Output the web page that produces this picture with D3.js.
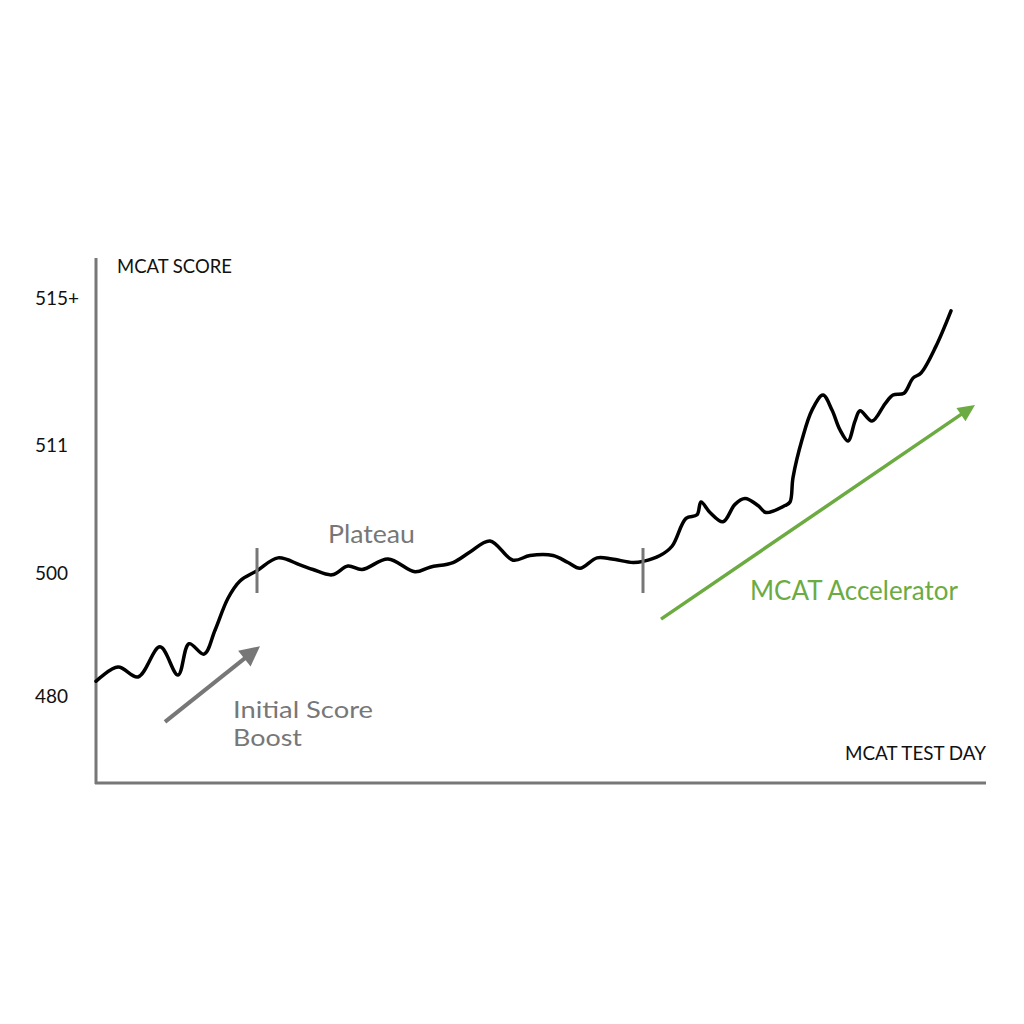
<!DOCTYPE html>
<html>
<head>
<meta charset="utf-8">
<script src="https://cdn.jsdelivr.net/npm/d3@7/dist/d3.min.js"></script>
<style>
  html, body { margin: 0; padding: 0; background: #fff; }
  svg { display: block; }
</style>
</head>
<body>
<svg id="chart" width="1024" height="1024"></svg>
<script>
// ---------- DATA ----------
const days = [0,22,42,64,82,93,108,119,132,144,161,182,204,217,236,252,266,292,319,334,357,374,394,417,434,457,472,484,501,516,537,547,564,576,590,601,605,614,627,639,649,662,670,689,694,697,706,716,727,736,744,752,759,764,776,789,797,808,817,825,840,855];
const scores = [482.4,484.7,483.1,488.0,483.4,488.5,486.8,490.7,495.9,498.7,500.2,501.3,500.7,500.3,499.7,500.6,500.3,501.2,500.1,500.5,500.9,501.8,502.75,501.1,501.5,501.5,500.9,500.4,501.3,501.2,500.9,501.0,501.5,502.3,504.7,505.0,506.1,505.2,504.4,505.9,506.4,505.8,505.2,505.8,506.1,508.2,511.14,511.95,512.36,511.95,511.41,511.11,511.65,511.93,511.65,512.12,512.36,512.41,512.82,512.96,513.69,514.65];
const tickValues = [480, 500, 511, 515];
const tickLabels = ["480", "500", "511", "515+"];
const phaseMarkers = [161, 547];            // day where each phase ends
const boostArrow = [[69, 475.8], [164, 488.1]];
const accelArrow = [[565, 492.5], [879, 512.09]];
const axisTitles = ["MCAT SCORE", "MCAT TEST DAY"];
const annotations = ["Plateau", "Initial Score", "Boost", "MCAT Accelerator"];

// ---------- SCALES ----------
const svg = d3.select("#chart");
const x = d3.scaleLinear().domain([0, 890]).range([96, 986]);
// hand-drawn, non-uniform score axis
const y = d3.scaleLinear().domain(tickValues).range([696, 573, 445, 298]);

const GRAY = "#777777";
const GREEN = "#6cab42";
const FONT = "Lato, 'Open Sans', sans-serif";

// ---------- AXES ----------
svg.append("line").attr("x1", 96).attr("x2", 96).attr("y1", 258).attr("y2", 784)
  .attr("stroke", GRAY).attr("stroke-width", 3);
svg.append("line").attr("x1", 95).attr("x2", 986).attr("y1", 783).attr("y2", 783)
  .attr("stroke", GRAY).attr("stroke-width", 3);

const yAxis = d3.axisLeft(y).tickValues(tickValues)
  .tickFormat((d, i) => tickLabels[i]).tickSize(0);
const gy = svg.append("g").attr("transform", "translate(96,0)").call(yAxis);
gy.select(".domain").remove();
gy.selectAll("text")
  .attr("text-anchor", "start").attr("x", 35 - 96).attr("dy", "0.35em")
  .attr("font-family", FONT).attr("font-size", 19)
  .attr("fill", "#111");

// axis titles
svg.append("text").attr("x", 117).attr("y", 273).text(axisTitles[0])
  .attr("font-family", FONT).attr("font-size", 19).attr("fill", "#111")
  .attr("textLength", 115).attr("lengthAdjust", "spacingAndGlyphs");
svg.append("text").attr("x", 845).attr("y", 760).text(axisTitles[1])
  .attr("font-family", FONT).attr("font-size", 19).attr("fill", "#111")
  .attr("textLength", 141).attr("lengthAdjust", "spacingAndGlyphs");

// ---------- LINE ----------
const pts = days.map((d, i) => [d, scores[i]]);
const line = d3.line().x(d => x(d[0])).y(d => y(d[1])).curve(d3.curveCatmullRom.alpha(0.5));
svg.append("path").datum(pts).attr("d", line)
  .attr("fill", "none").attr("stroke", "#000").attr("stroke-width", 3.5)
  .attr("stroke-linejoin", "round").attr("stroke-linecap", "round");

// phase markers
phaseMarkers.forEach(d => {
  svg.append("line").attr("x1", x(d)).attr("x2", x(d))
    .attr("y1", 548).attr("y2", 593)
    .attr("stroke", GRAY).attr("stroke-width", 3);
});

// ---------- ARROWS ----------
function arrow(a, color, width, headLen, headW) {
  const x1 = x(a[0][0]), y1 = y(a[0][1]), x2 = x(a[1][0]), y2 = y(a[1][1]);
  const ang = Math.atan2(y2 - y1, x2 - x1);
  const bx = x2 - headLen * Math.cos(ang), by = y2 - headLen * Math.sin(ang);
  svg.append("line").attr("x1", x1).attr("y1", y1).attr("x2", bx + 2 * Math.cos(ang)).attr("y2", by + 2 * Math.sin(ang))
    .attr("stroke", color).attr("stroke-width", width);
  const px = -Math.sin(ang) * headW / 2, py = Math.cos(ang) * headW / 2;
  svg.append("polygon")
    .attr("points", [[x2, y2], [bx + px, by + py], [bx - px, by - py]].map(p => p.join(",")).join(" "))
    .attr("fill", color);
}
arrow(boostArrow, GRAY, 4, 20, 20);
arrow(accelArrow, GREEN, 3.5, 17, 16);

// ---------- ANNOTATIONS ----------
svg.append("text").attr("x", 328).attr("y", 543).text(annotations[0])
  .attr("font-family", FONT).attr("font-size", 25).attr("fill", GRAY)
  .attr("textLength", 87).attr("lengthAdjust", "spacingAndGlyphs");
svg.append("text").attr("x", 233).attr("y", 718).text(annotations[1])
  .attr("font-family", FONT).attr("font-size", 24).attr("fill", GRAY)
  .attr("textLength", 140).attr("lengthAdjust", "spacingAndGlyphs");
svg.append("text").attr("x", 233).attr("y", 746).text(annotations[2])
  .attr("font-family", FONT).attr("font-size", 24).attr("fill", GRAY)
  .attr("textLength", 69).attr("lengthAdjust", "spacingAndGlyphs");
svg.append("text").attr("x", 750).attr("y", 600).text(annotations[3])
  .attr("font-family", FONT).attr("font-size", 27).attr("fill", GREEN)
  .attr("textLength", 208).attr("lengthAdjust", "spacingAndGlyphs");
</script>
</body>
</html>
